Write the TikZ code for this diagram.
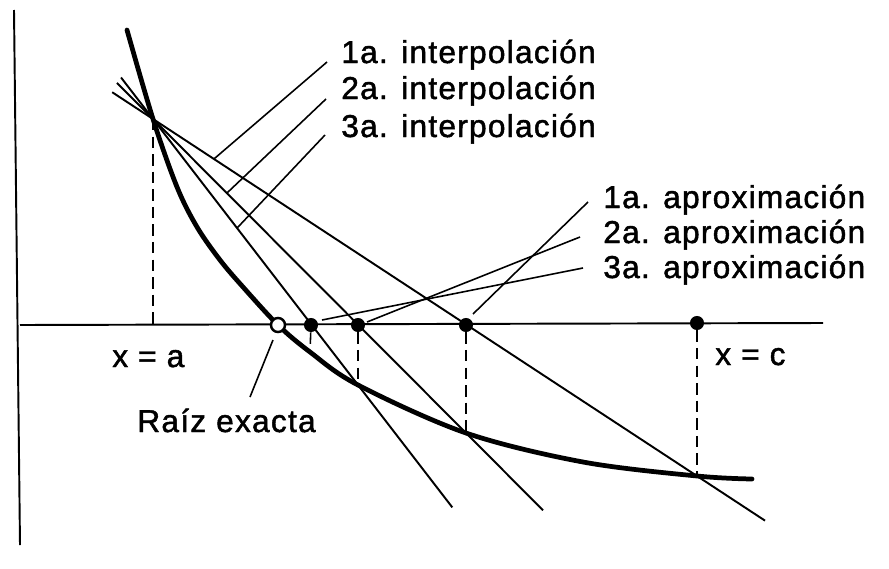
\documentclass[tikz,border=0pt]{standalone}
\usepackage{fontspec}
\setmainfont{Liberation Sans}
\newfontfamily\rotfont[LetterSpace=4, FakeBold=1.5]{Liberation Sans}
\usetikzlibrary{positioning, calc}
\tikzset{
  curva/.style={line width=2.7pt, line cap=round},
  secante/.style={line width=1.1pt},
  guia/.style={line width=0.9pt},
  eje/.style={line width=1.1pt},
  cota/.style={line width=0.9pt, dash pattern=on 6.5pt off 3.5pt},
  punto/.style={circle, fill=black, inner sep=0pt, minimum size=8pt},
  raiz/.style={circle, draw=black, line width=1.4pt, fill=white, inner sep=0pt, minimum size=8pt},
  rotulo/.style={font=\rotfont\fontsize{18}{21}\selectfont, anchor=base west, inner sep=0pt}
}

\begin{document}
\begin{tikzpicture}[x=0.02cm, y=-0.02cm]
    \useasboundingbox (0,0) rectangle (889,568);

    % Ejes
    \coordinate (ejeA) at (14,10);
    \coordinate (ejeB) at (20,545);
    \coordinate (ejeX1) at (20,325);
    \coordinate (ejeX2) at (823,323);
    \draw[eje] (ejeA) -- (ejeB);
    \draw[eje] (ejeX1) -- (ejeX2);

    % Puntos de la curva
    \coordinate (A) at (153,119);
    \coordinate (P3) at (358,385);
    \coordinate (P2) at (466,433);
    \coordinate (C) at (697,476);
    \coordinate (Q3) at (310,352);

    % Curva
    \draw[curva] plot[smooth, tension=0.55] coordinates {(127,30) (A) (177,187) (197,227) (220,260) (243,287) (278,325) (Q3) (P3) (P2) (583,462) (C) (752,479)};

    % Secantes (interpolaciones)
    \draw[secante] ($(A)!-0.075!(C)$) -- ($(A)!1.125!(C)$);
    \draw[secante] ($(A)!-0.115!(P2)$) -- ($(A)!1.246!(P2)$);
    \draw[secante] ($(A)!-0.156!(P3)$) -- ($(A)!1.46!(P3)$);

    % Puntos sobre el eje
    \node[punto] (c) at (697,323) {};
    \node[punto] (d1) at (466,325) {};
    \node[punto] (d2) at (358,325) {};
    \node[punto] (d3) at (311,325) {};
    \node[raiz] (r) at (278,325) {};

    % Cotas verticales
    \draw[cota] (A) -- (153,325);
    \draw[cota] (c) -- (C);
    \draw[cota] (d1) -- (P2);
    \draw[cota] (d2) -- (P3);
    \draw[cota] (d3) -- (Q3);

    % Rotulos de interpolacion
    \node[rotulo] (i1) at (341,63) {1a. interpolación};
    \node[rotulo] (i2) at (341,99) {2a. interpolación};
    \node[rotulo] (i3) at (341,137) {3a. interpolación};
    \coordinate (gi1) at (327,62);
    \coordinate (gi2) at (326,99);
    \coordinate (gi3) at (325,135);
    \draw[guia] (gi1) -- ($(A)!0.112!(C)$);
    \draw[guia] (gi2) -- ($(A)!0.236!(P2)$);
    \draw[guia] (gi3) -- ($(A)!0.41!(P3)$);

    % Rotulos de aproximacion
    \node[rotulo] (a1) at (603,208) {1a. aproximación};
    \node[rotulo] (a2) at (603,243) {2a. aproximación};
    \node[rotulo] (a3) at (603,278) {3a. aproximación};
    \coordinate (ga1) at (588,202);
    \coordinate (ga2) at (580,237);
    \coordinate (ga3) at (583,268);
    \draw[guia] (ga1) -- ($(d1)+(7,-11)$);
    \draw[guia] (ga2) -- ($(d2)+(9,-3)$);
    \draw[guia] (ga3) -- ($(d3)+(11,-5)$);

    % Rotulos de los extremos y la raiz
    \node[rotulo] (xa) at (112,367) {x = a};
    \node[rotulo] (xc) at (715,365) {x = c};
    \node[rotulo] (re) at (137,432) {Raíz exacta};
    \coordinate (gr) at (250,397);
    \draw[guia] ($(r)+(-5,15)$) -- (gr);
\end{tikzpicture}
\end{document}
